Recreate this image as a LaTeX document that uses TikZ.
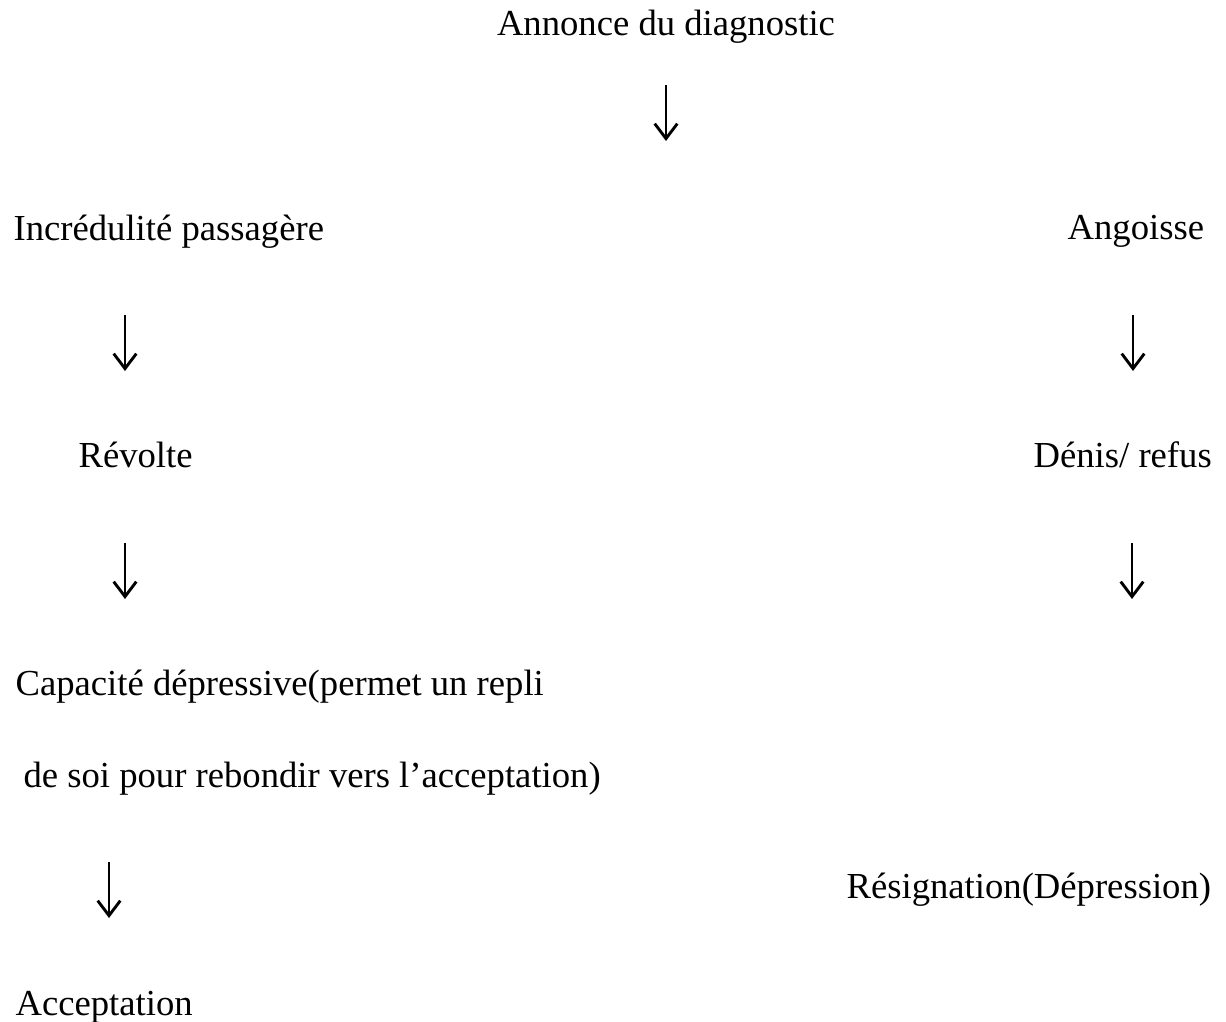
\documentclass[tikz,border=0pt]{standalone}
\usepackage{fontspec}
\setmainfont{Liberation Serif}
\usepackage{tikz}
\usetikzlibrary{arrows.meta, positioning}

\tikzset{
  etape/.style={inner sep=0pt, anchor=base west, font=\fontsize{12}{14}\selectfont},
  fleche/.style={-{Straight Barb[length=4.9pt, width=7.4pt, line width=0.95pt]}, line width=0.7pt}
}

\begin{document}
\begin{tikzpicture}[x=0.3274pt, y=-0.3274pt]
  \useasboundingbox (0,0) rectangle (1226,1021);

  % Annonce
  \node[etape, anchor=base] (annonce) at (666,35) {Annonce du diagnostic};

  % Branche gauche
  \node[etape] (incred) at (13,240) {Incrédulité passagère};
  \node[etape] (revolte) at (78,467) {Révolte};
  \node[etape] (capa1) at (15,695) {Capacité dépressive(permet un repli};
  \node[etape] (capa2) at (23,787) {de soi pour rebondir vers l’acceptation)};
  \node[etape] (accept) at (15,1015) {Acceptation};

  % Branche droite
  \node[etape] (angoisse) at (1067,239) {Angoisse};
  \node[etape] (denis) at (1033,467) {Dénis/ refus};
  \node[etape] (resign) at (846,898) {Résignation(Dépression)};

  % Points des flèches
  \coordinate (f1a) at (666,85);   \coordinate (f1b) at (666,141);
  \coordinate (f2a) at (125,315);  \coordinate (f2b) at (125,371);
  \coordinate (f3a) at (1133,315); \coordinate (f3b) at (1133,371);
  \coordinate (f4a) at (125,543);  \coordinate (f4b) at (125,599);
  \coordinate (f5a) at (1132,543); \coordinate (f5b) at (1132,599);
  \coordinate (f6a) at (109,862);  \coordinate (f6b) at (109,918);

  % Flèches
  \draw[fleche] (f1a) -- (f1b);
  \draw[fleche] (f2a) -- (f2b);
  \draw[fleche] (f3a) -- (f3b);
  \draw[fleche] (f4a) -- (f4b);
  \draw[fleche] (f5a) -- (f5b);
  \draw[fleche] (f6a) -- (f6b);
\end{tikzpicture}
\end{document}
